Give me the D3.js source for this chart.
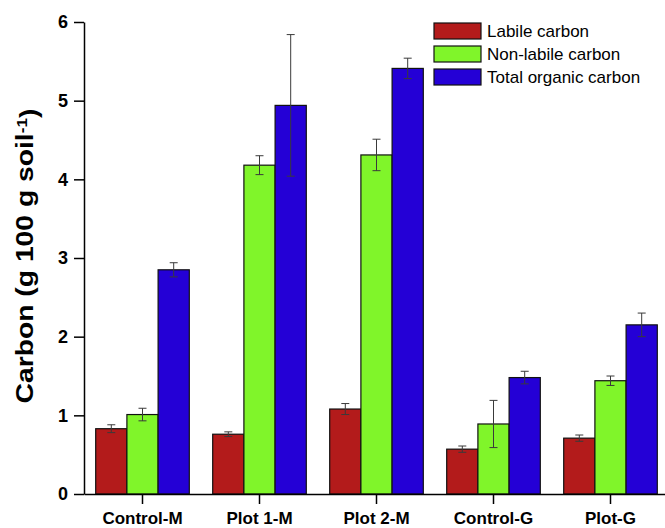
<!DOCTYPE html>
<html>
<head>
<meta charset="utf-8">
<script src="https://cdn.jsdelivr.net/npm/d3@7"></script>
<style>
  body { margin: 0; background: #fff; }
  svg text { font-family: "Liberation Sans", Arial, sans-serif; }
</style>
</head>
<body>
<div id="chart"></div>
<script>
// data
var sites = ["Control-M", "Plot 1-M", "Plot 2-M", "Control-G", "Plot-G"];
var seriesNames = ["Labile carbon", "Non-labile carbon", "Total organic carbon"];
var labile = [0.83, 0.76, 1.08, 0.57, 0.71];
var labileErr = [0.05, 0.03, 0.07, 0.04, 0.04];
var nonLabile = [1.01, 4.18, 4.31, 0.89, 1.44];
var nonLabileErr = [0.08, 0.12, 0.20, 0.30, 0.06];
var totalOC = [2.85, 4.94, 5.41, 1.48, 2.15];
var totalOCErr = [0.09, 0.90, 0.13, 0.08, 0.15];
var yTicks = [0, 1, 2, 3, 4, 5, 6];

var colors = ["#b31b1b", "#80f52a", "#2400d6"];

var width = 665, height = 528;

var svg = d3.select("#chart")
  .append("svg")
  .attr("width", width)
  .attr("height", height);

// scales
var x = d3.scaleBand()
  .domain(sites)
  .range([84, 669])
  .paddingInner(0.2)
  .paddingOuter(0.1);

var xSub = d3.scaleBand()
  .domain(seriesNames)
  .range([0, x.bandwidth()]);

var y = d3.scaleLinear()
  .domain([0, 6])
  .range([494, 22]);

// build rows for the bars
var series = [
  {name: seriesNames[0], vals: labile, errs: labileErr},
  {name: seriesNames[1], vals: nonLabile, errs: nonLabileErr},
  {name: seriesNames[2], vals: totalOC, errs: totalOCErr}
];
var rows = [];
series.forEach(function(s, i) {
  sites.forEach(function(site, j) {
    rows.push({site: site, name: s.name, value: s.vals[j], err: s.errs[j], color: colors[i]});
  });
});

// bars
svg.append("g").selectAll("rect")
  .data(rows)
  .enter()
  .append("rect")
  .attr("x", function(d) { return x(d.site) + xSub(d.name); })
  .attr("y", function(d) { return y(d.value); })
  .attr("width", xSub.bandwidth())
  .attr("height", function(d) { return y(0) - y(d.value); })
  .style("fill", function(d) { return d.color; })
  .style("stroke", "#111")
  .style("stroke-width", 1.2);

// error bars
var eb = svg.append("g").selectAll("g")
  .data(rows)
  .enter()
  .append("g")
  .attr("transform", function(d) {
    return "translate(" + (x(d.site) + xSub(d.name) + xSub.bandwidth() / 2) + ",0)";
  })
  .style("stroke", "#3a3a3a")
  .style("stroke-width", 1);

eb.append("line")
  .attr("y1", function(d) { return y(d.value + d.err); })
  .attr("y2", function(d) { return y(d.value - d.err); });
eb.append("line")
  .attr("x1", -4).attr("x2", 4)
  .attr("y1", function(d) { return y(d.value + d.err); })
  .attr("y2", function(d) { return y(d.value + d.err); });
eb.append("line")
  .attr("x1", -4).attr("x2", 4)
  .attr("y1", function(d) { return y(d.value - d.err); })
  .attr("y2", function(d) { return y(d.value - d.err); });

// axes
var xAxis = svg.append("g")
  .attr("transform", "translate(0," + y(0) + ")")
  .call(d3.axisBottom(x).tickSize(10).tickSizeOuter(0).tickPadding(8));
xAxis.selectAll("text")
  .style("font-size", "17px")
  .style("font-weight", "bold")
  .style("fill", "#000");

var yAxis = svg.append("g")
  .attr("transform", "translate(" + x.range()[0] + ",0)")
  .call(d3.axisLeft(y).tickValues(yTicks).tickFormat(d3.format("d")).tickSize(10).tickSizeOuter(0).tickPadding(6));
yAxis.selectAll("text")
  .style("font-size", "18px")
  .style("font-weight", "bold")
  .style("fill", "#000");

svg.selectAll(".domain, .tick line")
  .style("stroke", "#000")
  .style("stroke-width", 1.5);

// y axis title, stretched along its length to the span seen in the picture
var yTitleG = svg.append("g")
  .attr("transform", "translate(33," + ((y(0) + y(6)) / 2 - 2) + ") rotate(-90)");
var yTitle = yTitleG.append("text")
  .attr("text-anchor", "middle")
  .style("font-size", "23px")
  .style("font-weight", "bold")
  .style("fill", "#000");
yTitle.append("tspan").text("Carbon (g 100 g soil");
yTitle.append("tspan").attr("dy", "-0.45em").style("font-size", "14px").text("-1");
yTitle.append("tspan").attr("dy", "0.45em").text(")");
var titleLen = yTitle.node().getBBox().width;
yTitle.attr("transform", "scale(" + (295 / titleLen) + ",1)");

// legend
var legend = svg.append("g").selectAll("g")
  .data(seriesNames)
  .enter()
  .append("g")
  .attr("transform", function(d, i) { return "translate(434," + (23 + i * 23) + ")"; });

legend.append("rect")
  .attr("width", 47)
  .attr("height", 16)
  .style("fill", function(d, i) { return colors[i]; })
  .style("stroke", "#111")
  .style("stroke-width", 1.2);

legend.append("text")
  .attr("x", 53)
  .attr("y", 8)
  .attr("dy", "0.35em")
  .style("font-size", "17px")
  .style("fill", "#000")
  .text(function(d) { return d; });
</script>
</body>
</html>
